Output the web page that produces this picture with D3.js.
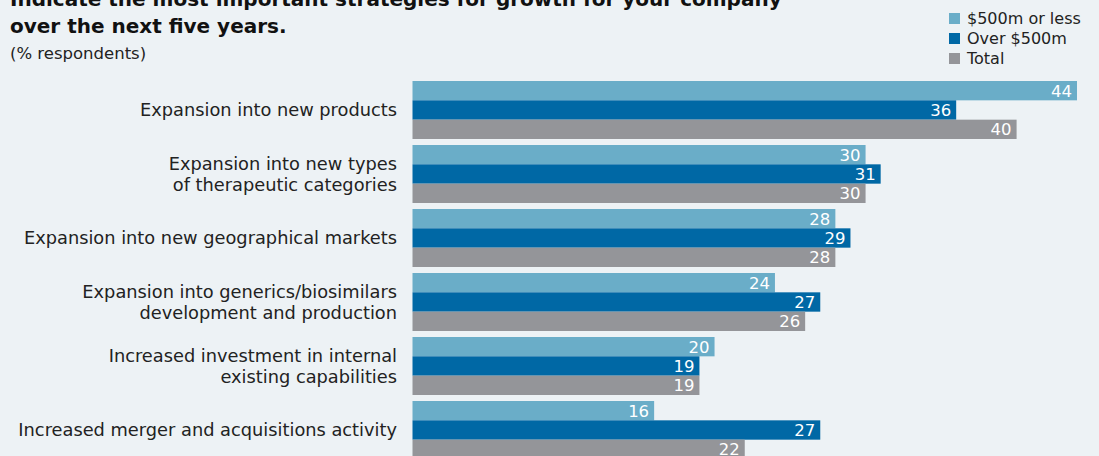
<!DOCTYPE html>
<html>
<head>
<meta charset="utf-8">
<script src="https://cdn.jsdelivr.net/npm/d3@7"></script>
<style>
  html, body { margin: 0; padding: 0; background: #edf2f5; }
  svg { display: block; }
  text { font-family: "DejaVu Sans", sans-serif; }
</style>
</head>
<body>
<svg id="chart" width="1099" height="456"></svg>
<script>
// Strategy categories (multi-line labels split with "\n")
const categories = [
  "Expansion into new products",
  "Expansion into new types\nof therapeutic categories",
  "Expansion into new geographical markets",
  "Expansion into generics/biosimilars\ndevelopment and production",
  "Increased investment in internal\nexisting capabilities",
  "Increased merger and acquisitions activity"
];
const seriesNames = ["$500m or less", "Over $500m", "Total"];
const smallCompanies = [44, 30, 28, 24, 20, 16];
const largeCompanies = [36, 31, 29, 27, 19, 27];
const totalValues    = [40, 30, 28, 26, 19, 22];
const seriesColors = ["#6aadc8", "#0068a5", "#949599"];

const titleLines = [
  "Indicate the most important strategies for growth for your company",
  "over the next five years."
];
const subtitle = "(% respondents)";

const seriesValues = [smallCompanies, largeCompanies, totalValues];
const rows = categories.map((c, i) => ({
  category: c,
  values: seriesValues.map((vals, s) => ({ series: seriesNames[s], value: vals[i], s }))
}));

const svg = d3.select("#chart");

// Layout
const plotLeft = 412.5;
const plotTop = 78;
const step = 64;

const x = d3.scaleLinear().domain([0, 44]).range([plotLeft, 1077]);
const y = d3.scaleBand()
  .domain(categories)
  .range([plotTop, plotTop + step * categories.length])
  .paddingInner(6 / 64)
  .paddingOuter(3 / 64);
const ySub = d3.scaleBand()
  .domain(seriesNames)
  .range([0, y.bandwidth()]);

// Title and subtitle
svg.append("g")
  .selectAll("text")
  .data(titleLines)
  .join("text")
  .attr("x", 10)
  .attr("y", (d, i) => 6 + i * 27)
  .attr("font-size", 20)
  .attr("font-weight", "bold")
  .attr("fill", "#111")
  .text(d => d);

svg.append("text")
  .attr("x", 10)
  .attr("y", 59)
  .attr("font-size", 16.5)
  .attr("fill", "#222")
  .text(subtitle);

// Bars
const groups = svg.append("g")
  .selectAll("g")
  .data(rows)
  .join("g")
  .attr("transform", d => `translate(0,${y(d.category)})`);

groups.selectAll("rect")
  .data(d => d.values)
  .join("rect")
  .attr("x", x(0))
  .attr("y", d => ySub(d.series))
  .attr("width", d => x(d.value) - x(0))
  .attr("height", ySub.bandwidth())
  .attr("fill", d => seriesColors[d.s]);

groups.selectAll("text.val")
  .data(d => d.values)
  .join("text")
  .attr("class", "val")
  .attr("x", d => x(d.value) - 5)
  .attr("y", d => ySub(d.series) + ySub.bandwidth() / 2)
  .attr("dy", "0.36em")
  .attr("text-anchor", "end")
  .attr("font-size", 16.5)
  .attr("fill", "#ffffff")
  .text(d => d.value);

// Category labels (right-aligned against the bars)
const yAxis = d3.axisLeft(y).tickSize(0).tickPadding(0).tickFormat("");
const axisG = svg.append("g")
  .attr("transform", `translate(397,0)`)
  .call(yAxis);
axisG.select(".domain").remove();

axisG.selectAll(".tick").each(function(d) {
  const lines = d.split("\n");
  const t = d3.select(this).append("text")
    .attr("text-anchor", "end")
    .attr("font-size", 17.8)
    .attr("fill", "#222");
  const lh = 21;
  lines.forEach((ln, i) => {
    t.append("tspan")
      .attr("x", 0)
      .attr("y", (i - (lines.length - 1) / 2) * lh)
      .attr("dy", "0.36em")
      .text(ln);
  });
});

// Legend
const legend = svg.append("g").attr("transform", "translate(949,13)");
const li = legend.selectAll("g")
  .data(seriesNames)
  .join("g")
  .attr("transform", (d, i) => `translate(0,${i * 20})`);
li.append("rect")
  .attr("width", 11).attr("height", 11)
  .attr("fill", (d, i) => seriesColors[i]);
li.append("text")
  .attr("x", 18).attr("y", 5.5).attr("dy", "0.36em")
  .attr("font-size", 16)
  .attr("fill", "#222")
  .text(d => d);
</script>
</body>
</html>
